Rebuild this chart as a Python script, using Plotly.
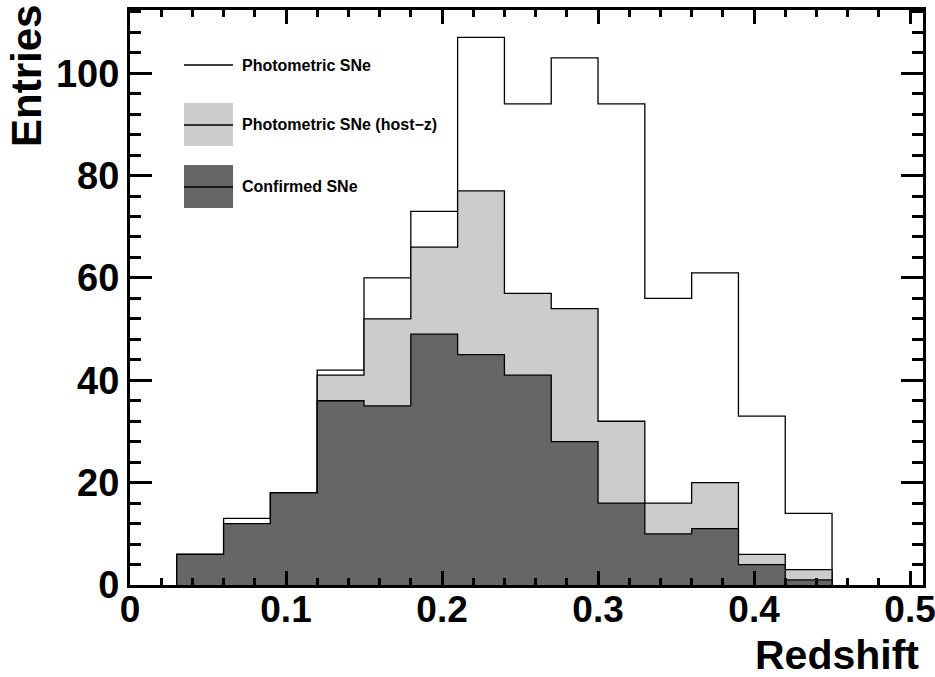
import plotly.graph_objects as go

# ---- data ----
bin_edges = [0.03, 0.06, 0.09, 0.12, 0.15, 0.18, 0.21, 0.24, 0.27, 0.30, 0.33, 0.36, 0.39, 0.42, 0.45]
photometric = [6, 13, 18, 42, 60, 73, 107, 94, 103, 94, 56, 61, 33, 14]
photometric_hostz = [6, 12, 18, 41, 52, 66, 77, 57, 54, 32, 16, 20, 6, 3]
confirmed = [6, 12, 18, 36, 35, 49, 45, 41, 28, 16, 10, 11, 4, 1]
x_ticks = [0, 0.1, 0.2, 0.3, 0.4, 0.5]
x_tick_labels = ["0", "0.1", "0.2", "0.3", "0.4", "0.5"]
y_ticks = [0, 20, 40, 60, 80, 100]
legend_labels = ["Photometric SNe", "Photometric SNe (host\u2212z)", "Confirmed SNe"]
fill_colors = [None, "#cccccc", "#666666"]

FONT = "Liberation Sans, Arial, Helvetica, sans-serif"


def step(edges, vals):
    xs = [edges[0]] + list(edges) + [edges[-1]]
    ys = [0] + list(vals) + [vals[-1], 0]
    return xs, ys


fig = go.Figure()
for vals, fc, name in zip([photometric, photometric_hostz, confirmed], fill_colors, legend_labels):
    xs, ys = step(bin_edges, vals)
    fig.add_trace(go.Scatter(
        x=xs, y=ys, mode="lines", name=name,
        line=dict(color="black", width=1.3, shape="hv"),
        fill="tozeroy" if fc else "none",
        fillcolor=fc if fc else None,
        showlegend=False, hoverinfo="skip",
    ))

# plot area in pixels
L, R, T, B = 130, 923, 10, 585
W, H = 935, 677
pw, ph = R - L, B - T


def px(x):
    return (x - L) / pw


def py(y):
    return (B - y) / ph


# manual ROOT-style legend
shapes = []
annotations = []
rows = [65, 125, 187]
for i, (lab, fc) in enumerate(zip(legend_labels, fill_colors)):
    yc = rows[i]
    if fc:
        shapes.append(dict(type="rect", xref="paper", yref="paper",
                           x0=px(184), x1=px(233), y0=py(yc - 22), y1=py(yc + 21),
                           fillcolor=fc, line=dict(width=0), layer="above"))
    shapes.append(dict(type="line", xref="paper", yref="paper",
                       x0=px(184), x1=px(233), y0=py(yc), y1=py(yc),
                       line=dict(color="black", width=1.3), layer="above"))
    annotations.append(dict(xref="paper", yref="paper", x=px(240), y=py(yc),
                            xanchor="left", yanchor="middle", showarrow=False,
                            text=lab, font=dict(family=FONT, size=16, color="black", weight="bold")))

annotations.append(dict(xref="paper", yref="paper", x=px(921), y=py(655),
                        xanchor="right", yanchor="middle", showarrow=False,
                        text="Redshift", font=dict(family=FONT, size=41, color="black", weight="bold")))
annotations.append(dict(xref="paper", yref="paper", x=px(27), y=py(3),
                        xanchor="center", yanchor="top", showarrow=False, textangle=-90,
                        text="Entries", font=dict(family=FONT, size=42, color="black", weight="bold")))

fig.update_layout(
    width=W, height=H,
    margin=dict(l=L, r=W - R, t=T, b=H - B, pad=0, autoexpand=False),
    paper_bgcolor="white", plot_bgcolor="white",
    shapes=shapes, annotations=annotations,
    font=dict(family=FONT, color="black"),
)
fig.update_xaxes(
    range=[0, 0.5083], showgrid=False, zeroline=False, automargin=False,
    showline=True, linecolor="black", linewidth=3, mirror="allticks",
    ticks="inside", ticklen=14, tickwidth=2.5, tickcolor="black",
    tickvals=x_ticks, ticktext=x_tick_labels,
    tickfont=dict(family=FONT, size=37, color="black", weight="bold"),
    minor=dict(ticks="inside", ticklen=7, tickwidth=2.5, tickcolor="black", dtick=0.02, showgrid=False),
    ticklabelstandoff=-10, ticklabeloverflow="allow",
)
fig.update_yaxes(
    range=[0, 112.35], showgrid=False, zeroline=False, automargin=False,
    showline=True, linecolor="black", linewidth=3, mirror="allticks",
    ticks="inside", ticklen=22, tickwidth=2.5, tickcolor="black",
    tickvals=y_ticks,
    tickfont=dict(family=FONT, size=38, color="black", weight="bold"),
    minor=dict(ticks="inside", ticklen=11, tickwidth=2.5, tickcolor="black", dtick=4, showgrid=False),
    ticklabelstandoff=0,
)

fig.write_html("out.html", config={"displayModeBar": False},
               post_script="document.body.style.margin='0';document.body.style.overflow='hidden';")
